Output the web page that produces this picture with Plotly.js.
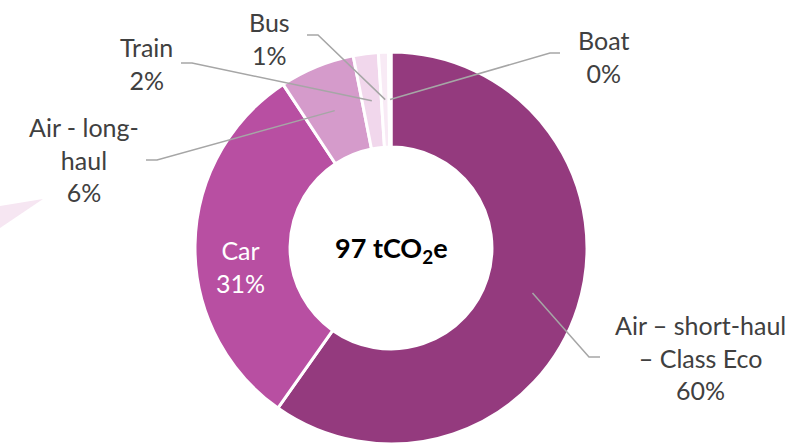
<!DOCTYPE html>
<html>
<head>
<meta charset="utf-8">
<script src="https://cdn.plot.ly/plotly-3.0.1.min.js"></script>
<style>html,body{margin:0;padding:0;background:#fff;}#chart{width:812px;height:446px;}</style>
</head>
<body>
<div id="chart"></div>
<script>
// ---- data ----
const categories = ["Air – short-haul – Class Eco", "Car", "Air - long-haul", "Train", "Bus", "Boat"];
const emissions = [58.0, 30.0, 6.0, 2.0, 0.8, 0.2];   // tCO2e
const labelLines = [["Air – short-haul", "– Class Eco"], ["Car"], ["Air - long-", "haul"], ["Train"], ["Bus"], ["Boat"]];
const colors = ["#943A7E", "#B84FA2", "#D59BCB", "#F1D7EC", "#F8EAF5", "#FCF4FA"];
const totalLabel = "97 tCO<sub>2</sub>e";

// ---- layout geometry (pixels) ----
const W = 812, H = 446;
const cx = 391, cy = 248, R = 196, hole = 0.515;
const px = x => x / W, py = y => 1 - y / H;

// label placement: text centre, elbow, line end
const place = [
  {tx: 700, ty: 357, elbow: [589, 357], end: [600, 357]},
  {tx: 240, ty: 266, inside: true},
  {tx: 84,  ty: 160, elbow: [157, 160], end: [146, 160]},
  {tx: 146, ty: 64,  elbow: [192, 63],  end: [181, 63]},
  {tx: 269, ty: 38,  elbow: [318, 35],  end: [307, 35]},
  {tx: 603, ty: 56,  elbow: [550, 53],  end: [560, 53]}
];

const total = emissions.reduce((a, b) => a + b, 0);
const pcts = emissions.map(v => Math.round(v / total * 100));

const font = "Lato, 'Noto Sans', sans-serif";
const annotations = [];
const shapes = [];

// decorative pointer on the left
shapes.push({type: 'path', xref: 'paper', yref: 'paper',
  path: `M ${px(43)} ${py(199)} L ${px(0)} ${py(206)} L ${px(0)} ${py(228)} Z`,
  fillcolor: '#F6E6F2', line: {width: 0}, layer: 'below'});

let cum = 0;
const rm = R * (1 + hole) / 2;
emissions.forEach((v, i) => {
  const mid = (cum + v / 2) / total;
  cum += v;
  const th = mid * 2 * Math.PI;
  const ax = cx + rm * Math.sin(th), ay = cy - rm * Math.cos(th);
  const p = place[i];
  const text = labelLines[i].concat([pcts[i] + "%"]).join("<br>");
  annotations.push({xref: 'paper', yref: 'paper', x: px(p.tx), y: py(p.ty),
    xanchor: 'center', yanchor: 'middle', showarrow: false, text: text, align: 'center',
    font: {family: font, size: 25, color: p.inside ? '#FFFFFF' : '#404040'}});
  if (!p.inside) {
    shapes.push({type: 'path', xref: 'paper', yref: 'paper',
      path: `M ${px(ax)} ${py(ay)} L ${px(p.elbow[0])} ${py(p.elbow[1])} L ${px(p.end[0])} ${py(p.end[1])}`,
      line: {color: '#A6A6A6', width: 1.5}});
  }
});

annotations.push({xref: 'paper', yref: 'paper', x: px(cx), y: py(cy + 2), xanchor: 'center', yanchor: 'middle',
  showarrow: false, text: "<b>" + totalLabel + "</b>",
  font: {family: font, size: 27, color: '#000000'}});

const trace = {
  type: 'pie', labels: categories, values: emissions, hole: hole,
  sort: false, direction: 'clockwise', rotation: 0,
  marker: {colors: colors, line: {color: '#FFFFFF', width: 3}},
  textinfo: 'none', hoverinfo: 'none', showlegend: false,
  domain: {x: [(cx - R) / W, (cx + R) / W], y: [(H - cy - R) / H, (H - cy + R) / H]}
};

Plotly.newPlot('chart', [trace], {
  width: W, height: H, margin: {l: 0, r: 0, t: 0, b: 0},
  paper_bgcolor: '#FFFFFF', showlegend: false,
  annotations: annotations, shapes: shapes
}, {staticPlot: true});
</script>
</body>
</html>
